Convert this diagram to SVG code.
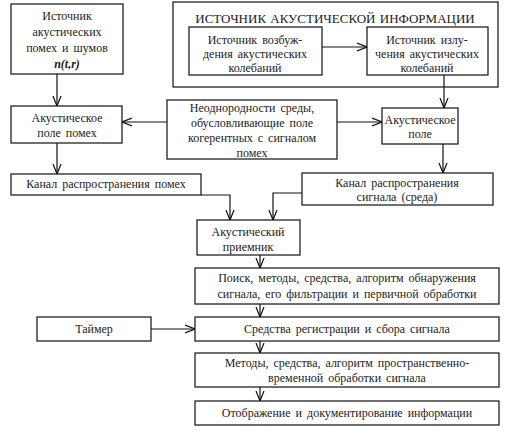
<svg xmlns="http://www.w3.org/2000/svg" width="506" height="433" viewBox="0 0 506 433" font-family="Liberation Serif, DejaVu Serif, Times New Roman, serif">
<defs>
<marker id="ah" viewBox="0 0 10 10" refX="10" refY="5" markerWidth="10" markerHeight="10" markerUnits="userSpaceOnUse" orient="auto">
<path d="M0,1 L10,5 L0,9" fill="none" stroke="#111" stroke-width="1.2"/>
</marker>
<style>
rect{fill:#fff;stroke:#222;stroke-width:1.3}
text{font-size:12px;fill:#222;text-anchor:middle;word-spacing:2px}
.c line,.c polyline{stroke:#111;stroke-width:1.2;fill:none;marker-end:url(#ah)}
</style>
</defs>
<rect x="0" y="0" width="506" height="433" style="fill:#fff;stroke:none"/>
<g id="noise-source">
<rect x="11" y="4" width="112" height="70"/>
<text x="67" y="20">Источник</text>
<text x="67" y="36">акустических</text>
<text x="67" y="52">помех и шумов</text>
<text x="67" y="68" font-style="italic" font-weight="bold">n(t,r)</text>
</g>
<g id="info-source">
<rect x="173" y="2" width="325" height="85"/>
<text x="335" y="23" style="font-size:13px;word-spacing:1px">ИСТОЧНИК АКУСТИЧЕСКОЙ ИНФОРМАЦИИ</text>
</g>
<g id="excitation">
<rect x="189" y="27" width="133" height="48"/>
<text x="255" y="44">Источник возбуж-</text>
<text x="255" y="58">дения акустических</text>
<text x="255" y="72">колебаний</text>
</g>
<g id="emission">
<rect x="367" y="27" width="121" height="48"/>
<text x="427" y="44">Источник излу-</text>
<text x="427" y="58">чения акустических</text>
<text x="427" y="72">колебаний</text>
</g>
<g id="noise-field">
<rect x="11" y="106" width="111" height="37"/>
<text x="67" y="122">Акустическое</text>
<text x="67" y="137">поле помех</text>
</g>
<g id="inhomogeneity">
<rect x="167" y="100" width="170" height="59"/>
<text x="252" y="112">Неоднородности среды,</text>
<text x="252" y="127">обусловливающие поле</text>
<text x="252" y="142">когерентных с сигналом</text>
<text x="252" y="157">помех</text>
</g>
<g id="acoustic-field">
<rect x="382" y="108" width="76" height="36"/>
<text x="420" y="124">Акустическое</text>
<text x="420" y="138">поле</text>
</g>
<g id="noise-channel">
<rect x="11" y="174" width="190" height="21"/>
<text x="106" y="188">Канал распространения помех</text>
</g>
<g id="signal-channel">
<rect x="302" y="173" width="191" height="32"/>
<text x="397" y="187">Канал распространения</text>
<text x="397" y="201">сигнала (среда)</text>
</g>
<g id="receiver">
<rect x="197" y="220" width="103" height="35"/>
<text x="248" y="236">Акустический</text>
<text x="248" y="251">приемник</text>
</g>
<g id="search">
<rect x="195" y="268" width="304" height="36"/>
<text x="347" y="282">Поиск, методы, средства, алгоритм обнаружения</text>
<text x="347" y="298">сигнала, его фильтрации и первичной обработки</text>
</g>
<g id="timer">
<rect x="37" y="317" width="114" height="24"/>
<text x="94" y="333">Таймер</text>
</g>
<g id="registration">
<rect x="195" y="317" width="304" height="24"/>
<text x="347" y="333">Средства регистрации и сбора сигнала</text>
</g>
<g id="processing">
<rect x="195" y="353" width="304" height="34"/>
<text x="347" y="367">Методы, средства, алгоритм пространственно-</text>
<text x="347" y="382">временной обработки сигнала</text>
</g>
<g id="display">
<rect x="195" y="401" width="304" height="24"/>
<text x="347" y="417">Отображение и документирование информации</text>
</g>
<g id="connectors" class="c">
<line x1="57" y1="74" x2="57" y2="106"/>
<line x1="322" y1="47" x2="367" y2="47"/>
<line x1="444" y1="75" x2="444" y2="108"/>
<line x1="167" y1="122" x2="122" y2="122"/>
<line x1="337" y1="122" x2="382" y2="122"/>
<line x1="57" y1="143" x2="57" y2="174"/>
<line x1="443" y1="144" x2="443" y2="173"/>
<polyline points="201,195 230,195 230,220"/>
<polyline points="302,193 273,193 273,220"/>
<line x1="260" y1="255" x2="260" y2="268"/>
<line x1="260" y1="304" x2="260" y2="317"/>
<line x1="260" y1="341" x2="260" y2="353"/>
<line x1="260" y1="387" x2="260" y2="401"/>
<line x1="151" y1="329" x2="195" y2="329"/>
</g>
</svg>
